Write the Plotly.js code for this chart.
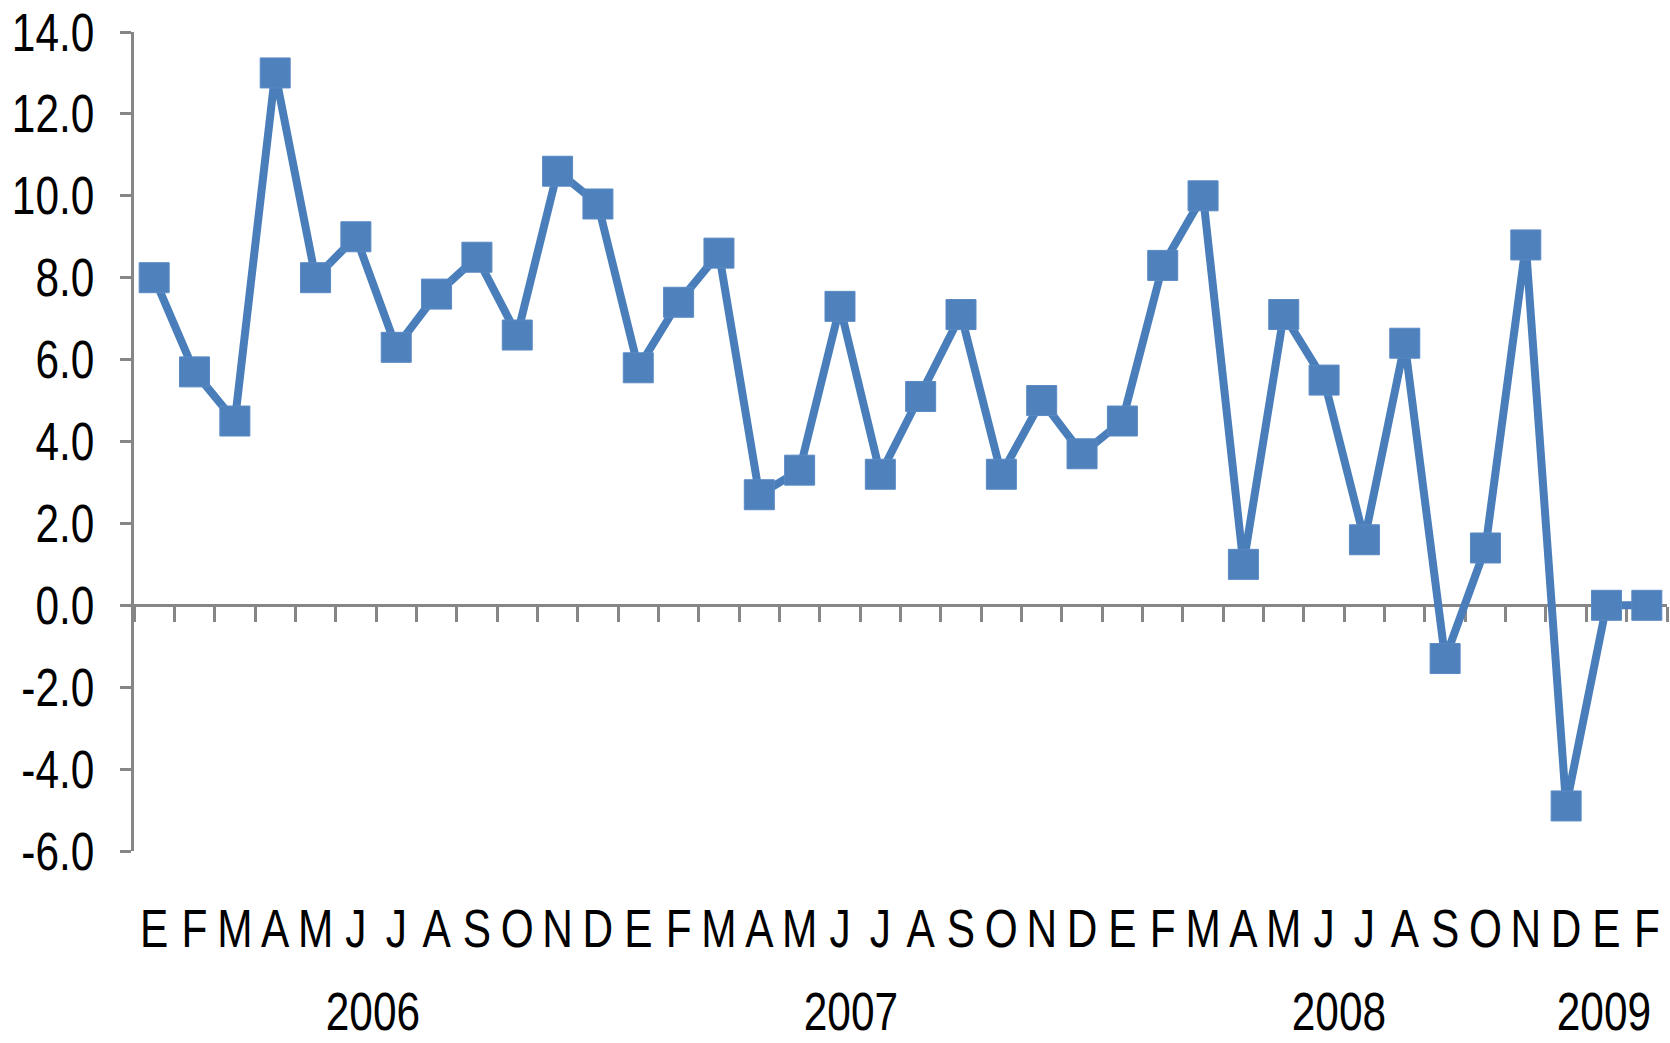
<!DOCTYPE html>
<html>
<head>
<meta charset="utf-8">
<script src="https://cdn.plot.ly/plotly-3.0.1.min.js"></script>
<style>html,body{margin:0;padding:0;background:#fff;}#chart{width:1670px;height:1043px;}</style>
</head>
<body>
<div id="chart"></div>
<script>
// Month labels (Spanish initials), Jan 2006 – Feb 2009
var months = ["E","F","M","A","M","J","J","A","S","O","N","D",
              "E","F","M","A","M","J","J","A","S","O","N","D",
              "E","F","M","A","M","J","J","A","S","O","N","D",
              "E","F"];
var values = [8.0, 5.7, 4.5, 13.0, 8.0, 9.0, 6.3, 7.6, 8.5, 6.6, 10.6, 9.8,
              5.8, 7.4, 8.6, 2.7, 3.3, 7.3, 3.2, 5.1, 7.1, 3.2, 5.0, 3.7,
              4.5, 8.3, 10.0, 1.0, 7.1, 5.5, 1.6, 6.4, -1.3, 1.4, 8.8, -4.9,
              0.0, 0.0];
var years = ["2006","2007","2008","2009"];
var yearCenters = [5.5, 17.5, 29.5, 36.5];   // category index at the centre of each year group
var yTickVals = [-6, -4, -2, 0, 2, 4, 6, 8, 10, 12, 14];
var yTickText = ["-6.0","-4.0","-2.0","0.0","2.0","4.0","6.0","8.0","10.0","12.0","14.0"];

// style-only offsets for the year labels (pixels)
var YEAR_SHIFT = [-3, -9, -5, -23];

var idx = months.map(function(_, i){ return i; });
var FONT = "Liberation Sans, Arial, sans-serif";
var GREY = "#868686";
var FS = 53;          // font size; glyphs are then narrowed horizontally (condensed look)
var NARROW = 0.80;

var traces = [
  {x: [], y: [], xaxis: "x2", yaxis: "y", type: "scatter", showlegend: false, hoverinfo: "skip"},
  {
    x: idx, y: values, type: "scatter", mode: "lines+markers",
    line: {color: "#4a7ebb", width: 8},
    marker: {symbol: "square", size: 30, color: "#4f81bd", line: {color: "#5a8ac4", width: 1}},
    cliponaxis: false, showlegend: false
  }
];

var layout = {
  width: 1670, height: 1043,
  margin: {l: 134, r: 3, t: 32, b: 192},
  paper_bgcolor: "#ffffff", plot_bgcolor: "#ffffff",
  font: {family: FONT, size: FS, color: "#000000"},
  showlegend: false,
  xaxis: {
    range: [-0.5, months.length - 0.5],
    tickmode: "array", tickvals: idx, ticktext: months,
    tickangle: 0,
    showline: false, showgrid: false, zeroline: false,
    ticks: "", ticklabelstandoff: 42,
    tickfont: {family: FONT, size: FS, color: "#000"},
    fixedrange: true
  },
  xaxis2: {
    overlaying: "x", anchor: "free", position: 0.3,
    range: [-0.5, months.length - 0.5],
    tickmode: "linear", tick0: -0.5, dtick: 1,
    showticklabels: false, showgrid: false, zeroline: false,
    showline: true, linecolor: GREY, linewidth: 3,
    ticks: "outside", ticklen: 15, tickwidth: 3, tickcolor: GREY,
    layer: "below traces"
  },
  yaxis: {
    range: [-6, 14],
    tickmode: "array", tickvals: yTickVals, ticktext: yTickText,
    showline: true, linecolor: GREY, linewidth: 3,
    ticks: "outside", ticklen: 11, tickwidth: 3, tickcolor: GREY,
    showgrid: false, zeroline: false,
    ticklabelstandoff: 15,
    tickfont: {family: FONT, size: FS, color: "#000"},
    layer: "below traces"
  },
  annotations: years.map(function(yr, i){
    return {
      text: yr, x: yearCenters[i], xref: "x", y: -0.1954, yref: "paper",
      xanchor: "center", yanchor: "middle", showarrow: false,
      xshift: YEAR_SHIFT[i],
      font: {family: FONT, size: FS, color: "#000"}
    };
  })
};

Plotly.newPlot("chart", traces, layout, {displayModeBar: false, staticPlot: true}).then(function(gd){
  // narrow the glyphs horizontally to mimic the condensed lettering of the original
  gd.querySelectorAll(".xtick text, .ytick text, .annotation-text").forEach(function(t){
    var w = t.getComputedTextLength();
    if (w > 0) {
      t.setAttribute("textLength", (w * NARROW).toFixed(2));
      t.setAttribute("lengthAdjust", "spacingAndGlyphs");
    }
  });
});
</script>
</body>
</html>
